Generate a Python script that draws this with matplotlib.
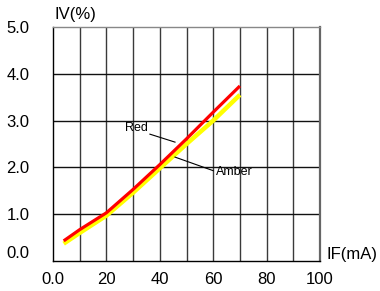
import matplotlib
matplotlib.use("Agg")
import matplotlib.pyplot as plt
import numpy as np

plt.rcParams['font.family'] = ['Liberation Sans', 'DejaVu Sans']

# Data
current_ma = [4, 10, 20, 30, 40, 50, 60, 70]
red_iv = [0.43, 0.67, 1.03, 1.53, 2.06, 2.61, 3.18, 3.74]
amber_iv = [0.37, 0.60, 0.97, 1.46, 1.98, 2.50, 3.00, 3.55]

x_ticks = [0, 20, 40, 60, 80, 100]
x_tick_labels = ["0.0", "20", "40", "60", "80", "100"]
y_ticks = [0, 1, 2, 3, 4, 5]
y_tick_labels = ["0.0", "1.0", "2.0", "3.0", "4.0", "5.0"]

fig = plt.figure(figsize=(3.8, 2.91), dpi=100)
ax = fig.add_axes([53/380, 30/291, (320-53)/380, (261-27)/291])

ax.set_xlim(0, 100)
ax.set_ylim(0, 5)

# grid
for gx in range(10, 100, 10):
    ax.axvline(gx, color='#3a3a3a', lw=1.0, zorder=1)
for gy in [1, 2, 3, 4]:
    ax.axhline(gy, color='#111111', lw=1.0, zorder=1)

ax.plot(current_ma, amber_iv, color='#FFFF00', lw=3.2, zorder=3, solid_capstyle='butt')
ax.plot(current_ma, red_iv, color='#FF0000', lw=2.3, zorder=4, solid_capstyle='butt')

for side in ['left', 'bottom']:
    ax.spines[side].set_color('black')
    ax.spines[side].set_linewidth(1.0)
ax.spines['top'].set_color('#888888')
ax.spines['top'].set_linewidth(1.0)
ax.spines['right'].set_color('#666666')
ax.spines['right'].set_linewidth(1.6)

ax.set_xticks(x_ticks)
ax.set_xticklabels(x_tick_labels, fontsize=12)
ax.set_yticks(y_ticks)
ax.set_yticklabels(y_tick_labels, fontsize=12)
ax.tick_params(axis='both', length=0)
ax.tick_params(axis='x', pad=8)
ax.tick_params(axis='y', pad=17)
for lbl in ax.get_yticklabels():
    lbl.set_va('center_baseline')
ax.get_yticklabels()[0].set_va('bottom')

# annotations
ax.text(27, 2.84, "Red", fontsize=9, ha='left', va='center', zorder=5)
ax.plot([36.3, 45.7], [2.71, 2.54], color='black', lw=0.8, zorder=5)
ax.text(61, 1.90, "Amber", fontsize=9, ha='left', va='center', zorder=5)
ax.plot([45.7, 60], [2.22, 1.93], color='black', lw=0.8, zorder=5)

fig.text(55/380, 1 - 15/291, "IV(%)", fontsize=12, ha='left', va='center')
fig.text(327/380, 1 - 254/291, "IF(mA)", fontsize=12, ha='left', va='center')

fig.savefig("out.png", dpi=100)
